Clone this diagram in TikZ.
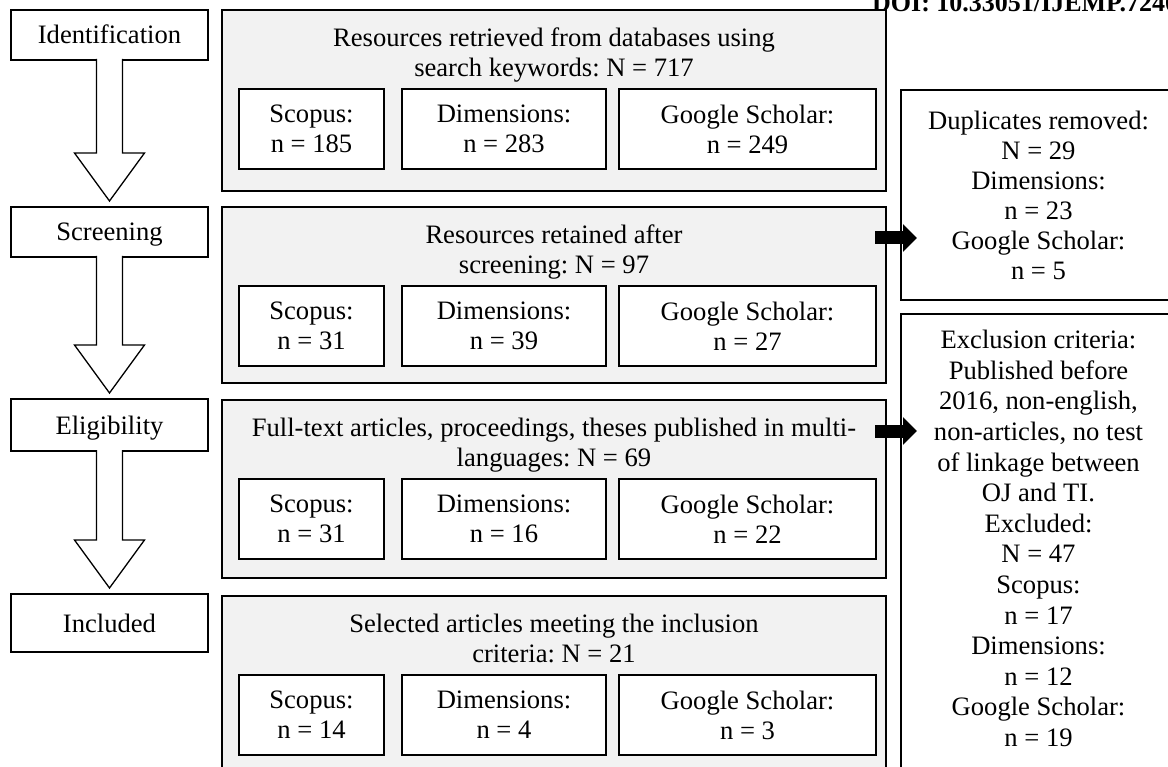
\documentclass[tikz,border=0pt]{standalone}
\usepackage{fontspec}
\setmainfont{Liberation Serif}
\usepackage{tikz}
\usetikzlibrary{positioning,calc,arrows.meta}
\frenchspacing

\tikzset{
  stage/.style={draw, line width=2pt, fill=white, minimum width=197pt, minimum height=50pt, text height=18pt, text depth=0pt, inner sep=0pt},
  group/.style={draw, line width=2pt, fill=gray!10, minimum width=664pt, anchor=north west, inner sep=0pt},
  grouptitle/.style={anchor=north, align=center, inner sep=0pt},
  src/.style={draw, line width=2pt, fill=white, minimum height=80pt, align=center, inner sep=0pt, anchor=north west},
  side/.style={draw, line width=2pt, fill=white, minimum width=275pt, anchor=north west, inner sep=0pt},
  hollow/.style={line width=1.3pt, fill=white},
  blockarrow/.style={line width=13pt, -{Triangle[length=14pt, width=27pt]}},
}

\begin{document}
\begin{tikzpicture}[x=1pt, y=-1pt, font=\fontsize{26.6pt}{30pt}\selectfont]
    \useasboundingbox (0,0) rectangle (1168,767);
    \clip (0,0) rectangle (1168,767);

    % Header
    \node[anchor=base west, inner sep=0pt, font=\fontsize{26pt}{30pt}\selectfont\bfseries] (doi) at (872,12) {DOI: 10.33051/IJEMP.7240};

    % Stages
    \node[stage] (ident) at (109.5,35) {Identification};
    \node[stage] (scr) at (109.5,232) {Screening};
    \node[stage, minimum height=52pt] (elig) at (109.5,425) {Eligibility};
    \node[stage, minimum height=58pt] (incl) at (109.5,623) {Included};

    \foreach \a/\b in {ident/scr, scr/elig, elig/incl} {
        \draw[hollow] ($(\a.south)+(-13,-2)$) -- ($(\b.north)+(-13,-53)$) -- ($(\b.north)+(-35,-53)$)
            -- ($(\b.north)+(0,-5)$) -- ($(\b.north)+(35,-53)$) -- ($(\b.north)+(13,-53)$) -- ($(\a.south)+(13,-2)$);
    }

    % Groups
    \node[group, minimum height=181pt] (g1) at (221,9) {};
    \node[group, minimum height=176pt] (g2) at (221,206) {};
    \node[group, minimum height=178pt] (g3) at (221,399) {};
    \node[group, minimum height=190pt] (g4) at (221,595) {};

    \node[grouptitle] (t1) at ($(g1.north)+(0,19)$) {Resources retrieved from databases using\\search keywords: N = 717};
    \node[grouptitle] (t2) at ($(g2.north)+(0,19)$) {Resources retained after\\screening: N = 97};
    \node[grouptitle] (t3) at ($(g3.north)+(0,19)$) {Full-text articles, proceedings, theses published in multi-\\languages: N = 69};
    \node[grouptitle] (t4) at ($(g4.north)+(0,19)$) {Selected articles meeting the inclusion\\criteria: N = 21};

    % Sources
    \foreach \g/\s/\d/\c in {g1/185/283/249, g2/31/39/27, g3/31/16/22, g4/14/4/3} {
        \node[src, minimum width=145pt] (\g-sc) at ($(\g.north west)+(17,79)$) {Scopus:\\n = \s};
        \node[src, minimum width=204pt, right=16pt of \g-sc] (\g-dm) {Dimensions:\\n = \d};
        \node[src, minimum width=257pt, right=11pt of \g-dm] (\g-gs) {Google Scholar:\\n = \c};
    }

    % Removed
    \node[side, minimum height=210pt, align=center] (dup) at (900,89) {Duplicates removed:\\N = 29\\Dimensions:\\n = 23\\Google Scholar:\\n = 5};
    \node[side, minimum height=470pt] (excl) at (900,313) {};
    \node[anchor=north, align=center, inner sep=0pt, font=\fontsize{26.6pt}{30.6pt}\selectfont] (excltext) at ($(excl.north)+(0,17)$)
        {Exclusion criteria:\\Published before\\2016, non-english,\\non-articles, no test\\of linkage between\\OJ and TI.\\Excluded:\\N = 47\\Scopus:\\n = 17\\Dimensions:\\n = 12\\Google Scholar:\\n = 19};

    \coordinate (a1) at ($(g2.north east)+(-12,32)$);
    \coordinate (a2) at ($(g3.north east)+(-12,32)$);
    \draw[blockarrow] (a1) -- ($(dup.west |- a1)+(17,0)$);
    \draw[blockarrow] (a2) -- ($(excl.west |- a2)+(17,0)$);
\end{tikzpicture}
\end{document}
